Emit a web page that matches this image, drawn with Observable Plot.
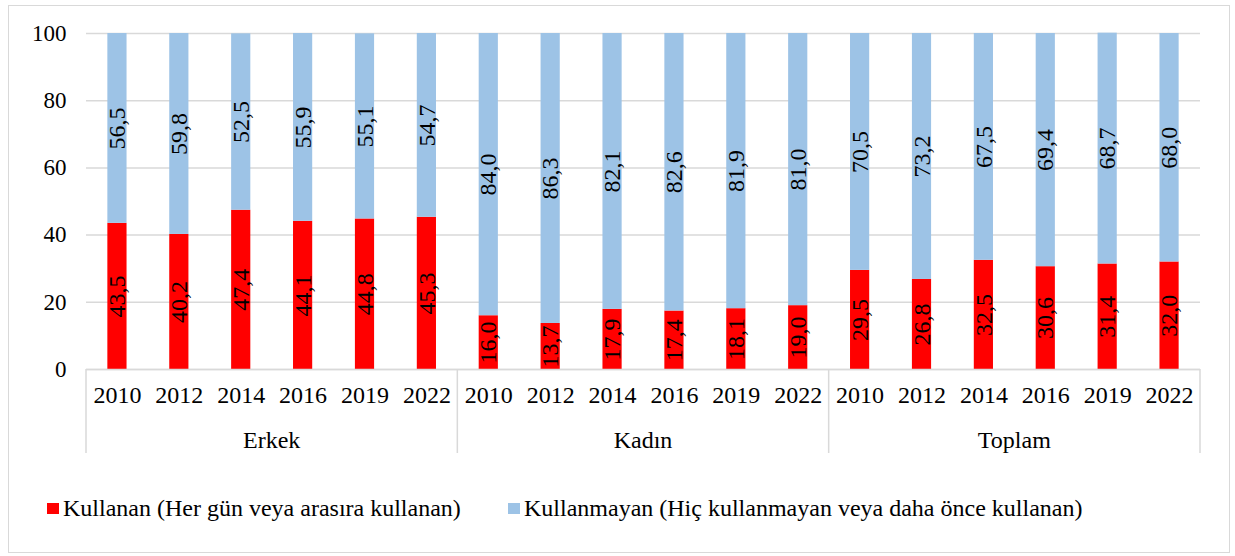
<!DOCTYPE html>
<html>
<head>
<meta charset="utf-8">
<script src="https://cdn.jsdelivr.net/npm/d3@7"></script>
<script src="https://cdn.jsdelivr.net/npm/@observablehq/plot@0.6"></script>
<style>
  body { margin: 0; background: #fff; font-family: 'Liberation Serif', serif; }
  #frame { position: absolute; left: 8px; top: 5px; width: 1222px; height: 548px; border: 1.5px solid #d9d9d9; box-sizing: border-box; }
  #chart { position: absolute; left: 0; top: 0; }
  .leg { position: absolute; top: 495px; display: flex; align-items: center; font-family: 'Liberation Serif', serif; font-size: 24px; color: #000; white-space: nowrap; }
  .sw { width: 12px; height: 11px; margin-right: 4px; }
</style>
</head>
<body>
<div id="frame"></div>
<div id="chart"></div>
<div class="leg" id="leg0" style="left:47px"><span class="sw" style="background:#ff0000"></span><span id="lt0"></span></div>
<div class="leg" id="leg1" style="left:508px"><span class="sw" style="background:#9dc3e6"></span><span id="lt1"></span></div>
<script>
const groups = ["Erkek", "Kadın", "Toplam"];
const years = ["2010", "2012", "2014", "2016", "2019", "2022"];
const seriesNames = [
  "Kullanan (Her gün veya arasıra kullanan)",
  "Kullanmayan (Hiç kullanmayan veya daha önce kullanan)"
];
const seriesColors = ["#ff0000", "#9dc3e6"];
const yTicks = [0, 20, 40, 60, 80, 100];

// Kullanan (red) per group, by year
const kullananErkek  = [43.5, 40.2, 47.4, 44.1, 44.8, 45.3];
const kullananKadin  = [16.0, 13.7, 17.9, 17.4, 18.1, 19.0];
const kullananToplam = [29.5, 26.8, 32.5, 30.6, 31.4, 32.0];
// Kullanmayan (blue) per group, by year
const kullanmayanErkek  = [56.5, 59.8, 52.5, 55.9, 55.1, 54.7];
const kullanmayanKadin  = [84.0, 86.3, 82.1, 82.6, 81.9, 81.0];
const kullanmayanToplam = [70.5, 73.2, 67.5, 69.4, 68.7, 68.0];

const kullanan = [kullananErkek, kullananKadin, kullananToplam];
const kullanmayan = [kullanmayanErkek, kullanmayanKadin, kullanmayanToplam];

const keys = [];
const rows = [];
groups.forEach((g, gi) => {
  years.forEach((yr, yi) => {
    const key = g + "|" + yr;
    keys.push(key);
    rows.push({key, group: g, year: yr, series: seriesNames[0], value: kullanan[gi][yi]});
  });
});
groups.forEach((g, gi) => {
  years.forEach((yr, yi) => {
    const key = g + "|" + yr;
    rows.push({key, group: g, year: yr, series: seriesNames[1], value: kullanmayan[gi][yi]});
  });
});

const fmt = v => d3.format(".1f")(v).replace(".", ",");
const grid = "#d9d9d9";
const serif = "'Liberation Serif', serif";

const plot = Plot.plot({
  width: 1235,
  height: 470,
  marginLeft: 86,
  marginRight: 35,
  marginTop: 33,
  marginBottom: 101,
  style: { fontFamily: serif, fontSize: "24px", color: "#000", background: "transparent" },
  x: { domain: keys, paddingInner: 0.69, paddingOuter: 0.345, round: false, label: null, axis: null },
  y: { domain: [0, 100], label: null, axis: null },
  color: { domain: seriesNames, range: seriesColors },
  marks: [
    Plot.gridY(yTicks, { stroke: grid, strokeOpacity: 1, strokeWidth: 1.5 }),
    Plot.barY(rows, { x: "key", y: "value", fill: "series" }),
    Plot.ruleY([0], { stroke: grid, strokeWidth: 1.5 }),
    Plot.text(rows, Plot.stackY({ x: "key", y: "value", z: "series", text: d => fmt(d.value), rotate: -90, fontSize: 24, fill: "#000" })),
    Plot.axisY({ ticks: yTicks, tickSize: 0, tickPadding: 20, fontSize: 23, label: null }),
    Plot.axisX({ tickSize: 0, tickPadding: 16, fontSize: 24, label: null, tickFormat: d => d.split("|")[1] })
  ]
});

document.getElementById("chart").appendChild(plot);

// Group separators and group labels, positioned with the plot's own x/y scales
const xs = plot.scale("x");
const ys = plot.scale("y");
const step = xs.step, bw = xs.bandwidth;
const y0 = ys.apply(0);
const svg = d3.select(plot);
const gSep = svg.append("g").attr("font-family", serif);
const edges = [];
groups.forEach((g, gi) => {
  const first = xs.apply(g + "|" + years[0]) - (step - bw) / 2;
  const last = xs.apply(g + "|" + years[years.length - 1]) + bw + (step - bw) / 2;
  edges.push(first);
  if (gi === groups.length - 1) edges.push(last);
  gSep.append("text")
    .attr("x", (first + last) / 2)
    .attr("y", y0 + 71)
    .attr("dy", "0.32em")
    .attr("text-anchor", "middle")
    .attr("font-size", 24)
    .attr("fill", "#000")
    .text(g);
});
edges.forEach(e => {
  gSep.append("line")
    .attr("x1", e).attr("x2", e)
    .attr("y1", y0).attr("y2", y0 + 84)
    .attr("stroke", grid).attr("stroke-width", 1.5);
});

document.getElementById("lt0").textContent = seriesNames[0];
document.getElementById("lt1").textContent = seriesNames[1];
</script>
</body>
</html>
